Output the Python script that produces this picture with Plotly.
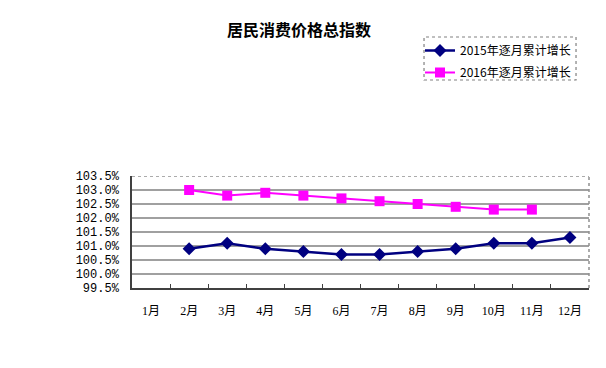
import plotly.graph_objects as go

months = ["1月", "2月", "3月", "4月", "5月", "6月", "7月", "8月", "9月", "10月", "11月", "12月"]
cpi_2015 = [None, 100.9, 101.1, 100.9, 100.8, 100.7, 100.7, 100.8, 100.9, 101.1, 101.1, 101.3]
cpi_2016 = [None, 103.0, 102.8, 102.9, 102.8, 102.7, 102.6, 102.5, 102.4, 102.3, 102.3, None]
y_ticks = [99.5, 100.0, 100.5, 101.0, 101.5, 102.0, 102.5, 103.0, 103.5]
y_tick_labels = ["99.5%", "100.0%", "100.5%", "101.0%", "101.5%", "102.0%", "102.5%", "103.0%", "103.5%"]
name_2015 = "2015年逐月累计增长"
name_2016 = "2016年逐月累计增长"
title = "居民消费价格总指数"

FONT = "Liberation Serif, Noto Sans CJK SC, serif"
OFF = 8  # page body margin offset

fig = go.Figure()
fig.add_trace(go.Scatter(
    x=months, y=cpi_2015, name=name_2015, mode="lines+markers", legendgroup="a",
    line=dict(color="#000080", width=2.5),
    marker=dict(symbol="diamond", size=10, color="#000080"),
))
fig.add_trace(go.Scatter(
    x=months, y=cpi_2016, name=name_2016, mode="lines+markers", legendgroup="b",
    line=dict(color="#FF00FF", width=2),
    marker=dict(symbol="square", size=10, color="#FF00FF"),
))

shapes = []
for v in y_ticks[1:-1]:
    shapes.append(dict(type="line", xref="paper", yref="y", x0=0, x1=1, y0=v, y1=v,
                       line=dict(color="#808080", width=1.6), layer="below"))
# top and right borders (dotted)
shapes.append(dict(type="line", xref="paper", yref="y", x0=0, x1=1, y0=y_ticks[-1], y1=y_ticks[-1],
                   line=dict(color="#909090", width=1.5, dash="dot")))
shapes.append(dict(type="line", xref="paper", yref="paper", x0=1, x1=1, y0=0, y1=1,
                   line=dict(color="#909090", width=1.5, dash="dot")))
# legend box
shapes.append(dict(type="rect", xref="paper", yref="paper", x0=0.639, x1=0.9716, y0=1.857, y1=2.241,
                   line=dict(color="#808080", width=1.2, dash="dot")))
# outer right border
shapes.append(dict(type="line", xref="paper", yref="paper", x0=1.035, x1=1.035, y0=-0.714, y1=2.571,
                   line=dict(color="#a0a0a0", width=1, dash="dot")))

fig.update_layout(
    width=606, height=368,
    margin=dict(l=132 - OFF, r=17 + OFF, t=176 - OFF, b=80 + OFF, autoexpand=False),
    paper_bgcolor="white", plot_bgcolor="white",
    title=dict(text="<b>" + title + "</b>", x=(299 - OFF) / 606, xanchor="center",
               y=1 - (30 - OFF) / 368, yanchor="middle",
               font=dict(family="Noto Sans CJK SC, sans-serif", size=16, color="black")),
    showlegend=True,
    legend=dict(xref="container", yref="container", x=(420 - OFF) / 606, y=1 - (36 - OFF) / 368,
                xanchor="left", yanchor="top",
                bgcolor="rgba(0,0,0,0)", borderwidth=0, tracegroupgap=3,
                font=dict(family="Noto Sans CJK SC, sans-serif", size=12, color="black"),
                itemwidth=30),
    shapes=shapes,
    xaxis=dict(type="category", categoryorder="array", categoryarray=months,
               range=[-0.5, 11.5], showgrid=False, showline=True, linecolor="#404040", linewidth=1.5,
               ticks="inside", tickson="boundaries", ticklen=4, tickcolor="#404040",
               ticklabelstandoff=11, tickangle=0,
               tickfont=dict(family=FONT, size=12, color="black"), zeroline=False),
    yaxis=dict(range=[99.5, 103.5], tickvals=y_ticks, ticktext=y_tick_labels,
               showgrid=False, showline=True, linecolor="#404040", linewidth=1.5,
               ticks="", zeroline=False, ticklabelstandoff=9,
               tickfont=dict(family="Liberation Mono, monospace", size=12, color="black")),
)

fig.write_html("out.html")
